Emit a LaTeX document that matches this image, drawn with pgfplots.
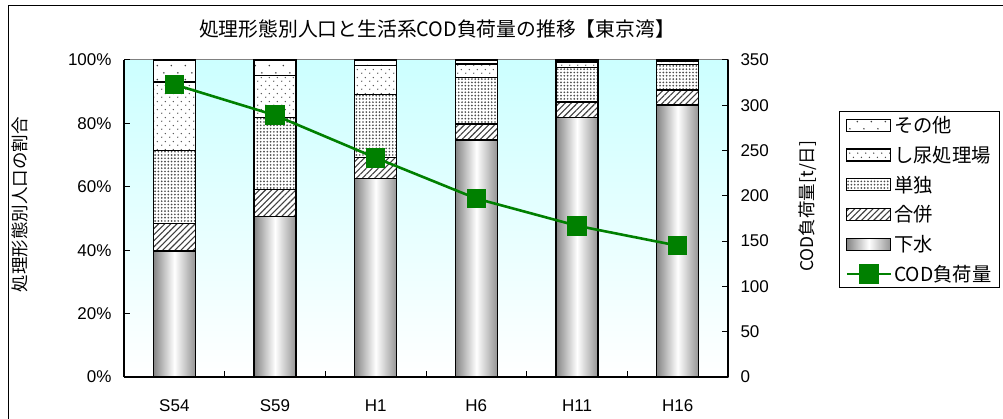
\documentclass[border=0pt]{standalone}
\usepackage{fontspec}
\setmainfont{Liberation Sans}
\newfontfamily\jp{Noto Sans CJK JP}
\usepackage{pgfplots}
\usepackage{pgfplotstable}
\pgfplotsset{compat=1.18}
\usetikzlibrary{patterns,patterns.meta}
\definecolor{bgtop}{RGB}{204,255,255}
\definecolor{codgreen}{RGB}{0,128,0}

\pgfdeclarepatternformonly{stagdots}{\pgfpointorigin}{\pgfpoint{8bp}{8bp}}{\pgfpoint{8bp}{8bp}}{%
  \pgfpathcircle{\pgfpoint{2bp}{2bp}}{0.8bp}%
  \pgfpathcircle{\pgfpoint{6bp}{6bp}}{0.8bp}%
  \pgfusepath{fill}}
\pgfdeclarepatternformonly{sparsedots}{\pgfpointorigin}{\pgfpoint{14bp}{14bp}}{\pgfpoint{14bp}{14bp}}{%
  \pgfpathcircle{\pgfpoint{3.5bp}{3.5bp}}{0.9bp}%
  \pgfpathcircle{\pgfpoint{10.5bp}{10.5bp}}{0.9bp}%
  \pgfusepath{fill}}

\pgfplotstableread{
x gesui gappei tandoku shinyo sonota cod
0 39.8 8.7 22.9 21.7 6.9 323
1 50.6 8.6 22.7 13.3 4.8 289
2 62.7 6.5 20.0 9.1 1.7 242
3 74.8 5.0 14.7 4.2 1.3 197
4 81.8 5.0 10.9 1.7 0.6 167
5 85.8 4.7 8.0 1.2 0.3 145
}\datatable

\pgfplotsset{
  barbase/.style={draw=black, line width=1.4bp},
  sGesui/.style={barbase, left color=black!48, right color=black!42, middle color=white},
  sGappei/.style={barbase, fill=white, postaction={pattern={Lines[angle=45,distance=4.3bp,line width=1.1bp]}, pattern color=black!75}},
  sTandoku/.style={barbase, fill=white, postaction={pattern={Dots[distance=3.3bp,radius=0.95bp]}, pattern color=black!70}},
  sShinyo/.style={barbase, fill=white, postaction={pattern=stagdots, pattern color=black!70}},
  sSonota/.style={barbase, fill=white, postaction={pattern=sparsedots, pattern color=black!75}},
  barlegend/.style={legend image code/.code={\draw[##1, line width=1.1bp] (0bp,-6bp) rectangle (44bp,6bp);}},
  codlegend/.style={legend image code/.code={\draw[mark repeat=2,mark phase=2,##1] plot coordinates {(0bp,0bp) (22bp,0bp) (44bp,0bp)};}},
  tickfont/.style={font=\fontsize{17bp}{19bp}\selectfont},
  geom/.style={at={(124bp,42bp)}, anchor=south west,
    width=604bp, height=317bp, scale only axis, xmin=-0.5, xmax=5.5},
}

\begin{document}
\begin{tikzpicture}
\useasboundingbox (0,0) rectangle (1003bp,419bp);
\draw[line width=1bp] (8bp,-10bp) rectangle (1030bp,413bp);
\node[font=\jp\fontsize{19.8bp}{21bp}\selectfont] at (437bp,390bp) {処理形態別人口と生活系COD負荷量の推移【東京湾】};

\begin{axis}[
  geom, ymin=0, ymax=100,
  axis x line*=bottom, axis y line*=left,
  axis line style={line width=1.1bp, black},
  axis background/.style={top color=bgtop, bottom color=white, draw=gray, line width=1bp},
  ybar stacked, bar width=42bp,
  xtick={0,...,5}, xticklabels={S54,S59,H1,H6,H11,H16},
  major x tick style={draw=none},
  minor xtick={0.5,1.5,2.5,3.5,4.5},
  ytick={0,20,...,100}, yticklabels={0\%,20\%,40\%,60\%,80\%,100\%},
  tick align=inside, major tick length=6bp, minor tick length=6bp,
  tick style={black, line width=1bp},
  tick label style={tickfont},
  yticklabel style={xshift=-9bp},
  xticklabel style={yshift=-19bp},
  ylabel={\jp 処理形態別人口の割合},
  ylabel style={at={(axis description cs:-0.172,0.543)}, anchor=center, font=\jp\fontsize{17.5bp}{19bp}\selectfont},
]
\addplot[draw=none, fill=none] table[x=x,y=gesui]{\datatable};
\addplot[sGappei] table[x=x,y=gappei]{\datatable};
\addplot[sTandoku] table[x=x,y=tandoku]{\datatable};
\addplot[sShinyo] table[x=x,y=shinyo]{\datatable};
\addplot[sSonota] table[x=x,y=sonota]{\datatable};
\end{axis}

\begin{axis}[
  geom, ymin=0, ymax=100, hide axis,
  ybar, bar width=42bp, bar shift=0pt,
]
\addplot[sGesui, restrict x to domain=-0.1:0.1] table[x=x,y=gesui]{\datatable};
\addplot[sGesui, restrict x to domain=0.9:1.1] table[x=x,y=gesui]{\datatable};
\addplot[sGesui, restrict x to domain=1.9:2.1] table[x=x,y=gesui]{\datatable};
\addplot[sGesui, restrict x to domain=2.9:3.1] table[x=x,y=gesui]{\datatable};
\addplot[sGesui, restrict x to domain=3.9:4.1] table[x=x,y=gesui]{\datatable};
\addplot[sGesui, restrict x to domain=4.9:5.1] table[x=x,y=gesui]{\datatable};
\end{axis}

\begin{axis}[
  geom, ymin=0, ymax=350,
  axis y line*=right, hide x axis,
  axis line style={line width=1.1bp, black},
  ytick={0,50,...,350}, yticklabels={0,50,100,150,200,250,300,350},
  tick align=inside, major tick length=6bp,
  tick style={black, line width=1bp},
  tick label style={tickfont},
  yticklabel style={xshift=9bp},
  ylabel={\jp COD負荷量[t/日]},
  ylabel style={at={(axis description cs:1.1325,0.539)}, anchor=center, font=\jp\fontsize{17.5bp}{19bp}\selectfont},
  legend style={at={(axis description cs:1.1838,0.839)}, anchor=north west,
    draw=black, line width=1bp, font=\jp\fontsize{19.3bp}{21bp}\selectfont,
    inner xsep=6bp, inner ysep=3bp, row sep=8bp,
    nodes={inner sep=2bp}},
  legend cell align=left,
]
\addlegendimage{sSonota, barlegend}
\addlegendentry{その他}
\addlegendimage{sShinyo, barlegend}
\addlegendentry{し尿処理場}
\addlegendimage{sTandoku, barlegend}
\addlegendentry{単独}
\addlegendimage{sGappei, barlegend}
\addlegendentry{合併}
\addlegendimage{sGesui, barlegend}
\addlegendentry{下水}
\addplot[codgreen, line width=2.6bp, mark=square*, mark size=8.5bp, mark options={solid, fill=codgreen}, codlegend]
  table[x=x,y=cod]{\datatable};
\addlegendentry{COD負荷量}
\end{axis}
\end{tikzpicture}
\end{document}
